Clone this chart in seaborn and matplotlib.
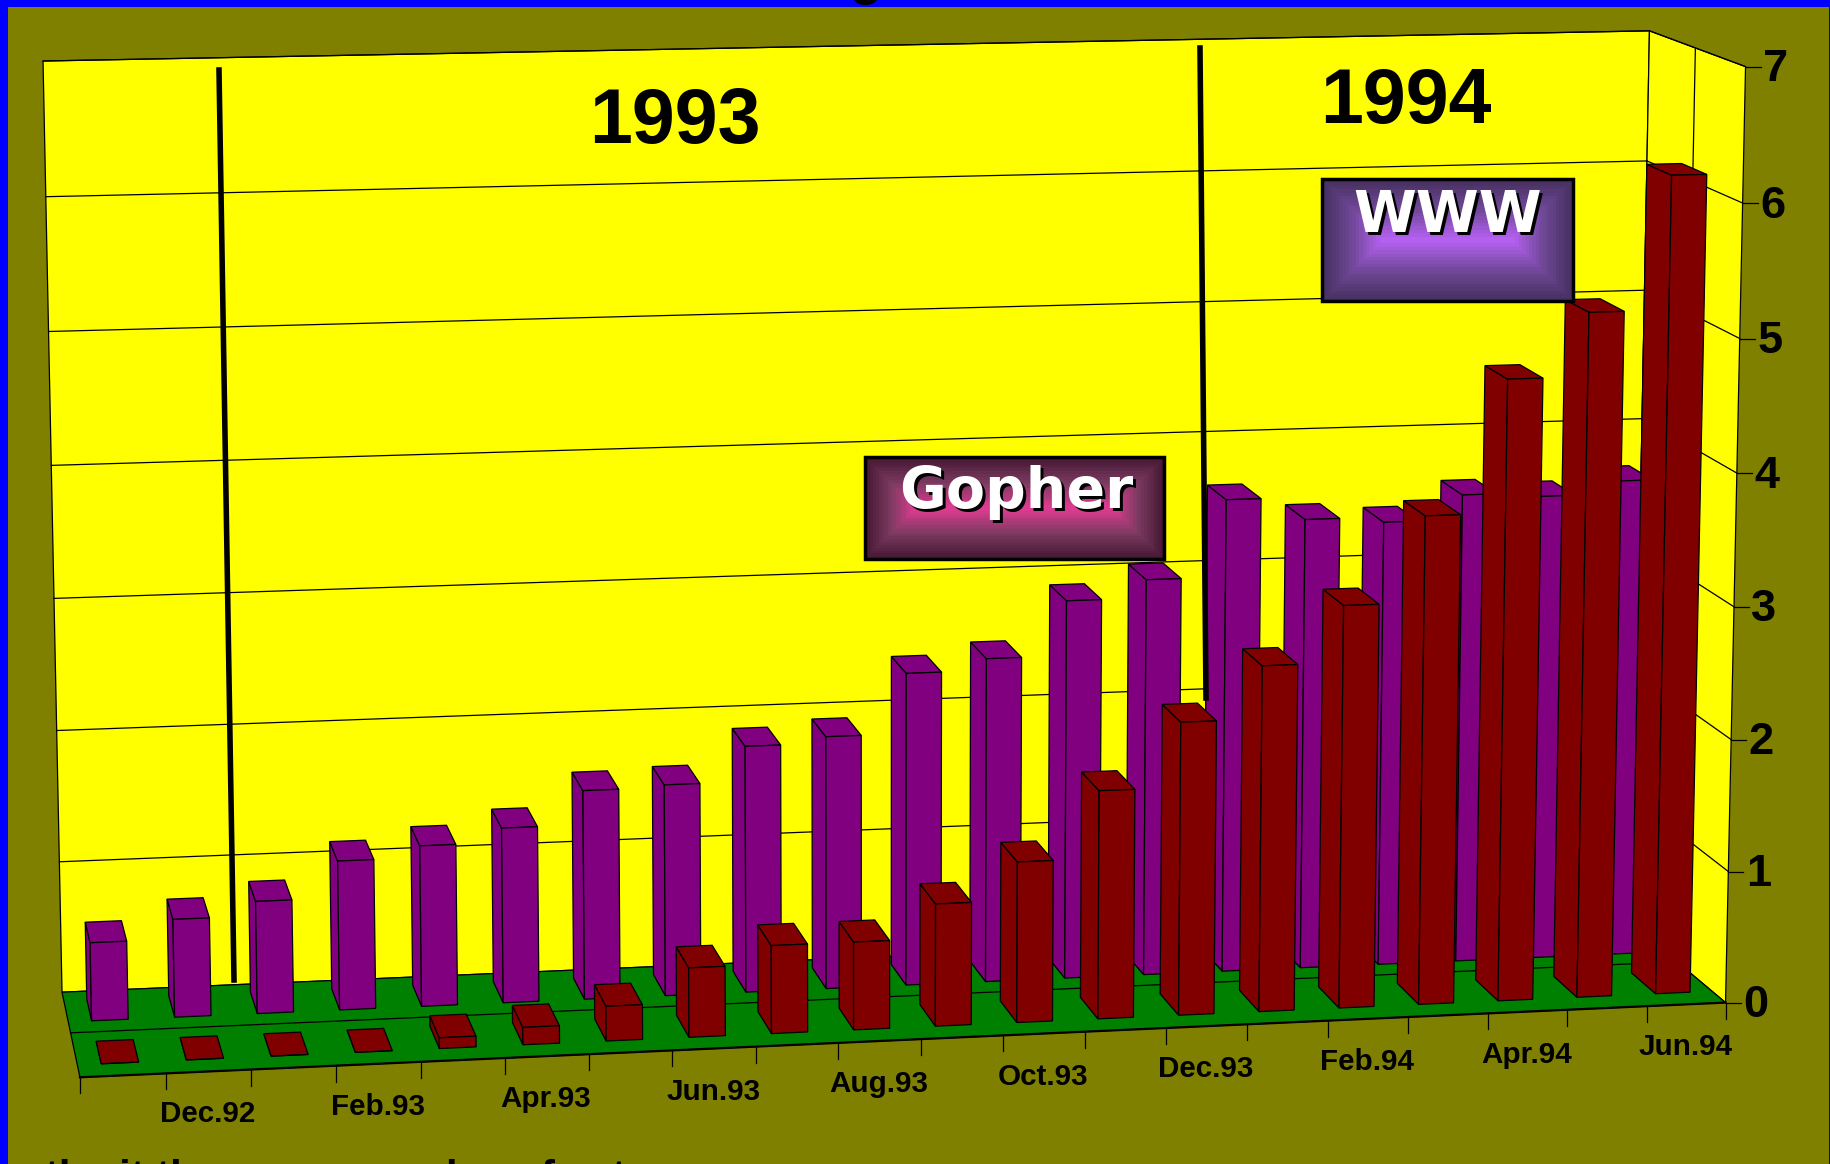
import numpy as np
import pandas as pd
import matplotlib
matplotlib.use('Agg')
import matplotlib.pyplot as plt
import seaborn as sns
from matplotlib.lines import Line2D
from matplotlib.patches import Polygon, Rectangle
from matplotlib.transforms import Transform

months = ['Nov.92', 'Dec.92', 'Jan.93', 'Feb.93', 'Mar.93', 'Apr.93', 'May.93', 'Jun.93', 'Jul.93', 'Aug.93',
          'Sep.93', 'Oct.93', 'Nov.93', 'Dec.93', 'Jan.94', 'Feb.94', 'Mar.94', 'Apr.94', 'May.94', 'Jun.94']
gopher = [0.59, 0.74, 0.85, 1.13, 1.22, 1.33, 1.59, 1.61, 1.88, 1.93,
          2.39, 2.48, 2.90, 3.04, 3.63, 3.46, 3.42, 3.61, 3.58, 3.68]
www = [0.0, 0.0, 0.0, 0.0, 0.08, 0.13, 0.26, 0.52, 0.66, 0.66,
       0.92, 1.21, 1.72, 2.21, 2.61, 3.04, 3.69, 4.69, 5.17, 6.17]
label_months = months[1::2]
y_ticks = [0, 1, 2, 3, 4, 5, 6, 7]

OLIVE = '#808000'
YELLOW = '#FFFF00'
GREEN = '#008000'
PURPLE = '#800080'
RED = '#800000'
BLUE = '#0000FF'
FONT = 'Liberation Sans'

# corners of the 3D box as (month edge, depth, value) -> picture pixels
corners = [(0, 0, 0, 62, 992.5), (0, 0, 7, 43, 61), (20, 0, 0, 1632, 924), (20, 0, 7, 1650, 31),
           (0, 1, 0, 80, 1077), (20, 1, 0, 1726, 1003), (20, 1, 7, 1745, 66.5)]
rows = []
for u, d, h, px, py in corners:
    rows.append([u, d, h, 1, 0, 0, 0, 0, -px * u, -px * d, -px * h, -px])
    rows.append([0, 0, 0, 0, u, d, h, 1, -py * u, -py * d, -py * h, -py])
cam = np.linalg.svd(np.array(rows, dtype=float))[2][-1].reshape(3, 4)


def project(u, d, h):
    pts = cam @ np.array([u, d, h, 1.0])
    return pts[0] / pts[2], pts[1] / pts[2]


class FaceTransform(Transform):
    # puts (month, value) of a seaborn bar on the plane of one depth
    input_dims = 2
    output_dims = 2

    def __init__(self, plane):
        super().__init__()
        self.plane = plane

    def transform_non_affine(self, values):
        values = np.asarray(values, dtype=float)
        out = [project(x + 0.5, self.plane, y) for x, y in values]
        return np.array(out)


df = pd.DataFrame({
    'month': months * 2,
    'value': gopher + www,
    'series': ['Gopher'] * len(months) + ['WWW'] * len(months),
})

fig = plt.figure(figsize=(18.31, 11.64), dpi=100, facecolor=OLIVE)
ax = fig.add_axes([0, 0, 1, 1])
sns.barplot(data=df, x='month', y='value', hue='series', hue_order=['Gopher', 'WWW'], dodge=False, width=0.44,
            palette={'Gopher': PURPLE, 'WWW': RED}, saturation=1, edgecolor='black', linewidth=0.9, legend=False, ax=ax)
ax.set_xlim(0, 1831)
ax.set_ylim(1164, 0)
ax.axis('off')


def poly(points, color, z, lw=0.9, edge='black'):
    xy = [project(*p) for p in points]
    ax.add_patch(Polygon(xy, closed=True, facecolor=color, edgecolor=edge, linewidth=lw, zorder=z))


def line(p, q, lw=0.9, color='black', z=3):
    a, b = project(*p), project(*q)
    ax.add_line(Line2D([a[0], b[0]], [a[1], b[1]], color=color, linewidth=lw, zorder=z))


# walls and floor
poly([(0, 0, 0), (20, 0, 0), (20, 0, 7), (0, 0, 7)], YELLOW, 1)
poly([(20, 0, 0), (20, 1, 0), (20, 1, 7), (20, 0, 7)], YELLOW, 1)
poly([(0, 0, 0), (20, 0, 0), (20, 1, 0), (0, 1, 0)], GREEN, 2)
mid = 0.49
for v in y_ticks[1:]:
    line((0, 0, v), (20, 0, v))
    line((20, 0, v), (20, 1, v))
line((20, mid, 0), (20, mid, 7))
line((0, mid, 0), (20, mid, 0))
line((0, 1, 0), (20, 1, 0), lw=1.6)

for i in range(len(months) + 1):
    x, y = project(i, 1, 0)
    ax.add_line(Line2D([x, x], [y, y + 16], color='black', linewidth=0.9, zorder=3))
for i, name in enumerate(months):
    if name in label_months:
        x, y = project(i + 0.5, 1, 0)
        ax.text(x - 1, y + 43, name, ha='center', va='center', fontsize=21.3, fontweight='bold', family=FONT, zorder=3)
for v in y_ticks:
    x, y = project(20, 1, v)
    ax.add_line(Line2D([x, x + 15], [y, y], color='black', linewidth=0.9, zorder=3))
    ax.text(x + 30, y + 3, str(v), ha='center', va='center', fontsize=32.5, fontweight='bold', family=FONT, zorder=3)

# the 3D sides of the seaborn bars, right ones go first since we look from the left
depths = [(0.36, 0.10, 10), (0.86, 0.60, 20)]
for container, (front, back, base) in zip(ax.containers, depths):
    for i, bar in enumerate(container.patches):
        x0 = bar.get_x() + 0.5
        x1 = x0 + bar.get_width()
        h = bar.get_height()
        z = base + (len(months) - i) * 0.01
        poly([(x0, front, 0), (x0, back, 0), (x0, back, h), (x0, front, h)], bar.get_facecolor(), z)
        poly([(x0, front, h), (x1, front, h), (x1, back, h), (x0, back, h)], bar.get_facecolor(), z)
        bar.set_transform(FaceTransform(front) + ax.transData)
        bar.set_zorder(z + 0.001)

ax.add_line(Line2D([219, 234], [70, 980], color='black', linewidth=4, zorder=30))
ax.add_line(Line2D([1200, 1206], [48, 698], color='black', linewidth=4, zorder=30))

ax.text(675, 122, '1993', ha='center', va='center', fontsize=55.5, fontweight='bold', family=FONT, zorder=3)
ax.text(1406, 102, '1994', ha='center', va='center', fontsize=55.5, fontweight='bold', family=FONT, zorder=3)


def bevel_box(x0, y0, x1, y1, edge, middle, center, label, size, lx, ly):
    half = (y1 - y0) / 2
    edge, middle, center = np.array(edge), np.array(middle), np.array(center)
    steps = 18
    for k in range(steps):
        t = k / (steps - 1)
        if t < 0.5:
            col = edge + (middle - edge) * t * 2
        else:
            col = middle + (center - middle) * (t - 0.5) * 2
        off = half * k / steps
        ax.add_patch(Rectangle((x0 + off, y0 + off), x1 - x0 - 2 * off, y1 - y0 - 2 * off,
                               facecolor=col / 255, edgecolor='none', zorder=31 + k * 0.01))
    ax.add_patch(Rectangle((x0, y0), x1 - x0, y1 - y0, facecolor='none', edgecolor='black', linewidth=2.5, zorder=32))
    ax.text(lx + 3, ly + 3, label, ha='center', va='baseline', fontsize=size, fontweight='bold',
            family='DejaVu Sans', color='black', zorder=33)
    ax.text(lx, ly, label, ha='center', va='baseline', fontsize=size, fontweight='bold',
            family='DejaVu Sans', color='white', zorder=34)


bevel_box(865, 457, 1164, 559, (70, 24, 52), (122, 58, 96), (220, 60, 144), 'Gopher', 41, 1016, 508)
bevel_box(1322, 179, 1573, 301, (70, 48, 96), (112, 72, 152), (180, 96, 240), 'WWW', 41, 1448, 232)

# clipped remains of the slide title and the line below the chart
ax.text(866, -6, 'g', ha='center', va='baseline', fontsize=38, fontweight='bold', family=FONT, zorder=50)
ax.text(45, 1190, 'the it the', ha='left', va='baseline', fontsize=30, fontweight='bold', family=FONT, zorder=50)
ax.text(445, 1190, 'k', ha='left', va='baseline', fontsize=30, fontweight='bold', family=FONT, zorder=50)
ax.text(540, 1190, 'f', ha='left', va='baseline', fontsize=30, fontweight='bold', family=FONT, zorder=50)
ax.text(612, 1190, 't', ha='left', va='baseline', fontsize=30, fontweight='bold', family=FONT, zorder=50)

# blue frame of the slide
ax.add_patch(Rectangle((0, 0), 1831, 7, facecolor=BLUE, edgecolor='none', zorder=40))
ax.add_patch(Rectangle((0, 0), 8, 1164, facecolor=BLUE, edgecolor='none', zorder=40))
ax.add_patch(Rectangle((1829, 0), 2, 1164, facecolor=BLUE, edgecolor='none', zorder=40))

fig.savefig('out.png', dpi=100, facecolor=OLIVE)
